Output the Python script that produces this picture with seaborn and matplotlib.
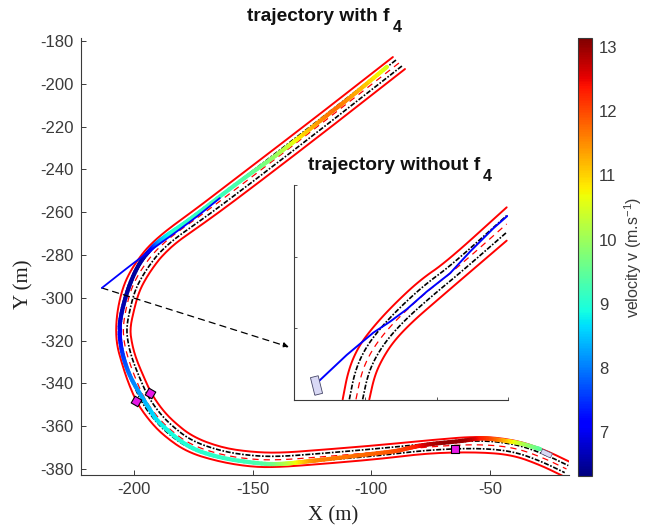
import numpy as np
import matplotlib
matplotlib.use("Agg")
import matplotlib.pyplot as plt
import seaborn as sns
from matplotlib.collections import LineCollection
from matplotlib.markers import MarkerStyle
from matplotlib.path import Path
from matplotlib.transforms import Affine2D

sns.set_style("ticks")
plt.rcParams['font.family'] = ['Liberation Sans', 'DejaVu Sans']
plt.rcParams['mathtext.default'] = 'regular'
plt.rcParams['axes.unicode_minus'] = False

# main road
outer_x = [-90.9, -121.6, -154.1, -172.2, -186.1, -193.3, -197.5, -201.7, -204.6, -206.7, -207.6, -207.2, -205.1, -202.5,
           -198.7, -193.7, -187.8, -177.7, -163.8, -149.9, -138.5, -121.6, -96.3, -75.3, -54.2, -40.3, -28.9, -19.2]
outer_y = [-187.5, -214.1, -241.7, -257.1, -268.3, -275.3, -280.9, -287.9, -295.0, -304.3, -313.6, -322.1, -330.5, -339.4,
           -349.2, -357.1, -364.1, -372.1, -376.7, -379.1, -379.1, -377.7, -375.3, -372.5, -372.1, -373.5, -378.1, -383.3]
inner_x = [-85.8, -117.0, -149.4, -168.0, -181.5, -187.8, -191.2, -194.9, -197.9, -200.0, -201.7, -200.8, -199.2, -196.2,
           -192.8, -188.6, -183.6, -175.1, -162.5, -149.9, -138.5, -121.6, -96.3, -75.3, -54.2, -39.0, -26.8, -16.3]
inner_y = [-193.1, -220.2, -247.8, -263.2, -273.5, -280.0, -284.7, -290.8, -297.3, -305.7, -314.6, -321.6, -328.1, -336.1,
           -344.5, -351.5, -357.6, -365.1, -370.2, -372.1, -372.5, -371.1, -368.8, -366.5, -364.6, -366.5, -371.1, -376.7]
center_x = [-88.35, -119.3, -151.75, -170.1, -183.8, -190.55, -194.35, -198.3, -201.25, -203.35, -204.65, -204.0, -202.15, -199.35,
            -195.75, -191.15, -185.7, -176.4, -163.15, -149.9, -138.5, -121.6, -96.3, -75.3, -54.2, -39.65, -27.85, -17.75]
center_y = [-190.3, -217.15, -244.75, -260.15, -270.9, -277.65, -282.8, -289.35, -296.15, -305.0, -314.1, -321.85, -329.3, -337.75,
            -346.85, -354.3, -360.85, -368.6, -373.45, -375.6, -375.8, -374.4, -372.05, -369.5, -368.35, -370.0, -374.6, -380.0]
lane1_x = [-89.6, -120.5, -152.9, -171.2, -185.0, -191.9, -195.9, -200.0, -202.9, -205.0, -206.1, -205.6, -203.6, -200.9,
           -197.2, -192.4, -186.8, -177.1, -163.5, -149.9, -138.5, -121.6, -96.3, -75.3, -54.2, -40.0, -28.4, -18.5]
lane1_y = [-188.9, -215.6, -243.2, -258.6, -269.6, -276.5, -281.9, -288.6, -295.6, -304.7, -313.9, -322.0, -329.9, -338.6,
           -348.0, -355.7, -362.5, -370.4, -375.1, -377.4, -377.5, -376.1, -373.7, -371.0, -370.2, -371.8, -376.4, -381.7]
lane2_x = [-87.1, -118.2, -150.6, -169.1, -182.7, -189.2, -192.8, -196.6, -199.6, -201.7, -203.2, -202.4, -200.7, -197.8,
           -194.3, -189.9, -184.7, -175.8, -162.8, -149.9, -138.5, -121.6, -96.3, -75.3, -54.2, -39.3, -27.3, -17.0]
lane2_y = [-191.7, -218.7, -246.3, -261.7, -272.2, -278.8, -283.8, -290.1, -296.7, -305.4, -314.4, -321.7, -328.7, -336.9,
           -345.7, -352.9, -359.2, -366.9, -371.8, -373.9, -374.2, -372.8, -370.4, -368.0, -366.5, -368.3, -372.9, -378.4]

# trajectory with f4, velocity along it
traj_x = [-28.9, -37.3, -42.8, -48.7, -54.2, -61.4, -75.3, -82.4, -89.2, -96.3, -121.6, -125.8, -133.0, -138.5, -145.6, -163.8,
          -177.7, -189.9, -192.4, -196.6, -201.7, -205.1, -206.3, -205.1, -201.7, -197.5, -193.3, -189.9, -184.8, -177.2,
          -155.3, -142.7, -135.5, -130.0, -117.4, -110.2, -93.4]
traj_y = [-370.7, -367.9, -366.9, -366.0, -365.5, -366.9, -368.3, -369.7, -371.6, -372.5, -375.8, -376.3, -377.2, -377.7, -377.7, -374.9,
          -369.7, -358.0, -353.8, -346.4, -337.0, -325.8, -315.0, -305.7, -293.1, -283.3, -277.7, -273.9, -269.7, -264.1,
          -245.4, -235.6, -229.5, -224.9, -213.6, -207.6, -192.1]
traj_v = [9.4, 10.2, 11.0, 11.9, 12.3, 13.1, 12.9, 12.2, 12.0, 11.8, 11.6, 11.5, 10.6, 10.0, 9.3, 9.1,
          9.0, 8.8, 8.6, 8.3, 8.0, 7.5, 7.0, 6.6, 6.5, 6.5, 6.8, 8.2, 9.0, 9.1,
          9.3, 9.8, 10.3, 10.9, 11.8, 11.5, 10.5]

# blue path without f4, main view
blue_x = [-213.5, -197.5, -175.1, -163.8]
blue_y = [-295.4, -281.4, -263.6, -253.4]

obstacle_x = [-199.2, -193.3, -64.7]
obstacle_y = [-348.2, -344.5, -370.7]
obstacle_angle = [15, 15, 45]
car_main = (-26.4, -372.5)

# inset road
in_outer_x = [-196.35, -194.76, -191.96, -187.75, -182.15, -174.67, -167.19, -150.37]
in_outer_y = [-299.82, -291.63, -285.12, -279.54, -273.49, -266.51, -261.39, -246.23]
in_inner_x = [-188.88, -187.47, -185.42, -182.15, -177.01, -170.0, -162.06, -150.37]
in_inner_y = [-299.82, -293.49, -288.84, -283.72, -278.33, -272.28, -265.49, -255.53]
in_center_x = [-192.62, -191.12, -188.69, -184.95, -179.58, -172.33, -164.62, -150.37]
in_center_y = [-299.82, -292.56, -286.98, -281.63, -275.91, -269.4, -263.44, -250.88]
in_lane1_x = [-194.48, -192.94, -190.3, -186.35, -180.87, -173.5, -165.9, -150.37]
in_lane1_y = [-299.82, -292.1, -286.05, -280.6, -274.7, -267.95, -262.4, -248.55]
in_lane2_x = [-190.75, -189.3, -187.05, -183.55, -178.3, -171.17, -163.35, -150.37]
in_lane2_y = [-299.82, -293.0, -287.9, -282.7, -277.1, -270.85, -264.45, -253.2]
in_blue_x = [-202.89, -195.23, -187.76, -183.08, -178.41, -172.8, -166.26, -160.65, -154.11, -150.19]
in_blue_y = [-294.61, -287.44, -281.21, -278.14, -274.7, -269.77, -264.65, -258.6, -252.09, -248.65]
car_inset = (-203.83, -295.82)

x_ticks = [-200, -150, -100, -50]
y_ticks = [-180, -200, -220, -240, -260, -280, -300, -320, -340, -360, -380]
v_ticks = [7, 8, 9, 10, 11, 12, 13]
W, H = 660, 529
INK = '#3a3a3a'


def px_axes(fig, left, top, right, bottom):
    return fig.add_axes([left / W, 1 - bottom / H, (right - left) / W, (bottom - top) / H])


def rounded(vals, n=3):
    # corner cutting so the polyline through the read points draws as a curve
    v = np.asarray(vals, dtype=float)
    for _ in range(n):
        q = 0.75 * v[:-1] + 0.25 * v[1:]
        r = 0.25 * v[:-1] + 0.75 * v[1:]
        v = np.concatenate([v[:1], np.column_stack([q, r]).ravel(), v[-1:]])
    return v


def line(ax, x, y, color, lw, ls='-', smooth=True):
    if smooth:
        x, y = rounded(x), rounded(y)
    sns.lineplot(x=x, y=y, ax=ax, color=color, lw=lw, linestyle=ls, sort=False, estimator=None, errorbar=None)


def road(ax, ox, oy, ix, iy, cx, cy, l1x, l1y, l2x, l2y):
    line(ax, ox, oy, 'red', 1.4)
    line(ax, ix, iy, 'red', 1.4)
    line(ax, cx, cy, 'red', 0.9, (0, (5, 4)))
    line(ax, l1x, l1y, 'black', 1.2, (0, (3, 1, 1, 1)))
    line(ax, l2x, l2y, 'black', 1.2, (0, (3, 1, 1, 1)))


def car_marker(angle):
    verts = [(-0.22, -0.5), (0.22, -0.5), (0.22, 0.5), (-0.22, 0.5), (-0.22, -0.5)]
    return MarkerStyle(Path(verts), transform=Affine2D().rotate_deg(angle))


fig = plt.figure(figsize=(6.6, 5.29), dpi=100)
ax = px_axes(fig, 80.5, 38, 569, 475)

road(ax, outer_x, outer_y, inner_x, inner_y, center_x, center_y, lane1_x, lane1_y, lane2_x, lane2_y)

points = np.column_stack([rounded(traj_x), rounded(traj_y)])
segments = np.stack([points[:-1], points[1:]], axis=1)
norm = plt.Normalize(6.32, 13.14)
lc = LineCollection(segments, cmap='jet', norm=norm, linewidths=3.0, capstyle='round', zorder=3)
lc.set_array(rounded(traj_v)[:-1])
ax.add_collection(lc)

line(ax, blue_x, blue_y, 'blue', 1.3)
ax.lines[-1].set_zorder(4)

for ox, oy, ang in zip(obstacle_x, obstacle_y, obstacle_angle):
    ax.scatter([ox], [oy], marker=(4, 0, ang), s=62, color='#e619e6', edgecolor='black', linewidth=0.8, zorder=5)
ax.scatter([car_main[0]], [car_main[1]], marker=car_marker(65), s=62, color='#d9d9f5', edgecolor='#555577',
           linewidth=0.5, zorder=5)

ax.set_xlim(-222.5, -16.7)
ax.set_ylim(-382.8, -178.6)
ax.set_xticks(x_ticks)
ax.set_yticks(y_ticks)
ax.tick_params(direction='in', length=3.5, width=0.7, color=INK, labelsize=12, labelcolor=INK, pad=5)
sns.despine(ax=ax)
for s in ['left', 'bottom']:
    ax.spines[s].set_color(INK)
    ax.spines[s].set_linewidth(0.8)
fig.text(333 / W, 1 - 516 / H, 'X (m)', family='Liberation Serif', fontsize=15, ha='center', va='center', color='#222222')
fig.text(24 / W, 1 - 284 / H, 'Y (m)', family='Liberation Serif', fontsize=15, ha='center', va='center', rotation=90,
         color='#222222')

# inset
axi = px_axes(fig, 294, 185, 508, 400)
axi.patch.set_alpha(0)
road(axi, in_outer_x, in_outer_y, in_inner_x, in_inner_y, in_center_x, in_center_y,
     in_lane1_x, in_lane1_y, in_lane2_x, in_lane2_y)
line(axi, in_blue_x, in_blue_y, 'blue', 1.4, smooth=False)
axi.lines[-1].set_zorder(4)
axi.scatter([car_inset[0]], [car_inset[1]], marker=car_marker(14), s=170, color='#d9d9f5', edgecolor='#444466',
            linewidth=0.6, zorder=5)
axi.set_xlim(-210, -150)
axi.set_ylim(-300, -240)
axi.set_xticks([-190, -170, -150])
axi.set_yticks([-280, -260, -240])
axi.set_xticklabels([])
axi.set_yticklabels([])
axi.tick_params(direction='in', length=2.5, width=0.6, color=INK)
sns.despine(ax=axi)
for s in ['left', 'bottom']:
    axi.spines[s].set_color(INK)
    axi.spines[s].set_linewidth(0.8)

ax.annotate('', xy=(-134.7, -323.0), xytext=(-213.5, -295.4),
            arrowprops=dict(arrowstyle='-|>', linestyle=(0, (5, 4)), color='black', lw=0.9, shrinkA=0, shrinkB=0,
                            mutation_scale=8), annotation_clip=False)

# colorbar
cax = px_axes(fig, 578, 38, 592, 476)
sm = plt.cm.ScalarMappable(norm=norm, cmap='jet')
cb = fig.colorbar(sm, cax=cax)
cb.set_ticks(v_ticks)
cb.ax.tick_params(direction='in', length=3, width=0.6, color=INK, labelsize=12, labelcolor=INK, pad=5)
cb.outline.set_edgecolor(INK)
cb.outline.set_linewidth(0.8)
fig.text(633 / W, 1 - 257 / H, 'velocity v (m.s$^{-1}$)', rotation=90, ha='center', va='center', fontsize=11.5, color=INK)

# titles, subscript set apart as in the original
tkw = dict(fontsize=13.8, fontweight='bold', color='#111111', va='baseline', ha='left')
fig.text(247 / W, 1 - 21 / H, 'trajectory with f', **tkw)
fig.text(393 / W, 1 - 32 / H, '4', **{**tkw, 'fontsize': 11.5})
fig.text(308 / W, 1 - 170 / H, 'trajectory without f', **tkw)
fig.text(483 / W, 1 - 181 / H, '4', **{**tkw, 'fontsize': 11.5})

fig.savefig('out.png', dpi=100)
